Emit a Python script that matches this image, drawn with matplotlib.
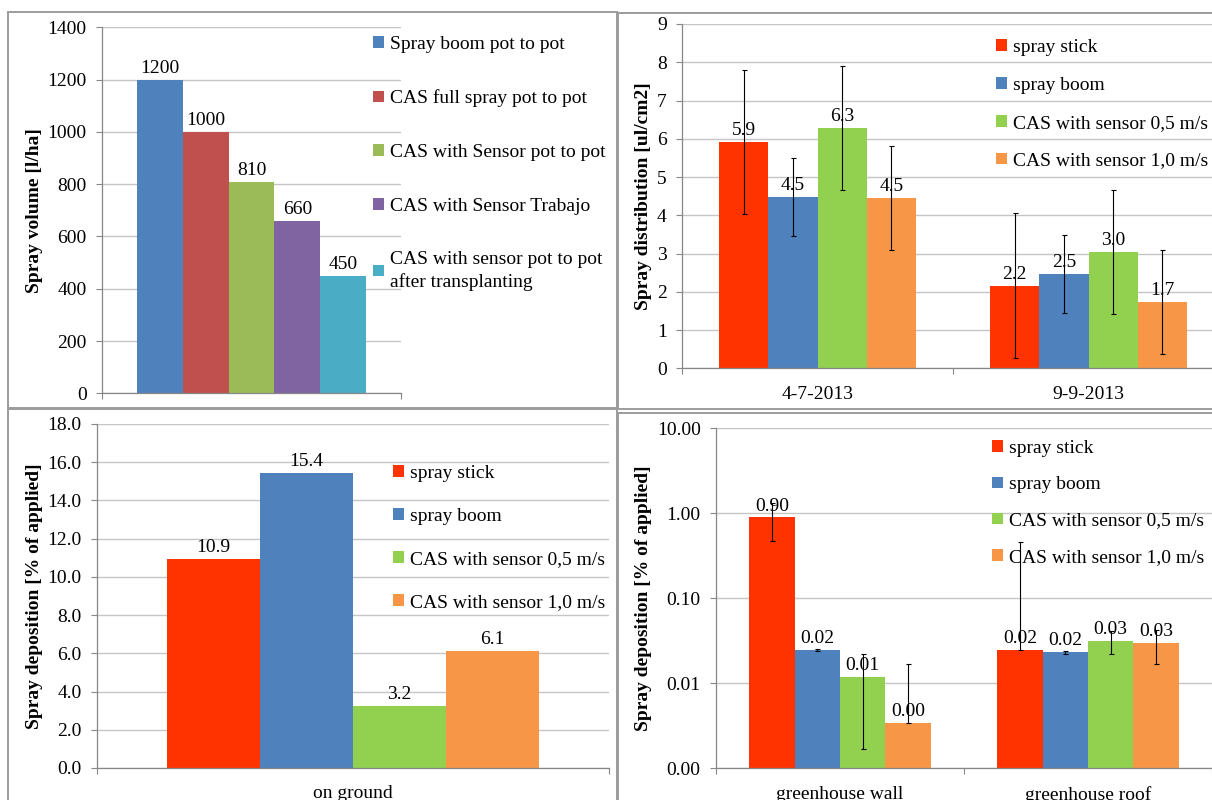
import numpy as np
import matplotlib
matplotlib.use("Agg")
import matplotlib.pyplot as plt
from matplotlib.ticker import FixedLocator, NullLocator, FuncFormatter

plt.rcParams["font.family"] = ["Liberation Serif", "DejaVu Serif"]
plt.rcParams["font.size"] = 14

# --- panel 1: spray volume ---
volume_names = ["Spray boom pot to pot", "CAS full spray pot to pot",
                "CAS with Sensor pot to pot", "CAS with Sensor Trabajo",
                "CAS with sensor pot to pot\nafter transplanting"]
volume_values = [1200, 1000, 810, 660, 450]
volume_colors = ["#4F81BD", "#C0504D", "#9BBB59", "#8064A2", "#4BACC6"]

# --- shared series for panels 2-4 ---
series_names = ["spray stick", "spray boom",
                "CAS with sensor 0,5 m/s", "CAS with sensor 1,0 m/s"]
series_colors = ["#FF3300", "#4F81BD", "#92D050", "#F79646"]

# --- panel 2: spray distribution ---
dist_dates = ["4-7-2013", "9-9-2013"]
dist_stick = [5.92, 2.16]
dist_boom = [4.48, 2.46]
dist_cas05 = [6.29, 3.04]
dist_cas10 = [4.46, 1.73]
dist_stick_err = [1.88, 1.89]
dist_boom_err = [1.02, 1.02]
dist_cas05_err = [1.62, 1.63]
dist_cas10_err = [1.36, 1.36]

# --- panel 3: deposition on ground ---
ground_cats = ["on ground"]
ground_values = [10.94, 15.44, 3.24, 6.13]

# --- panel 4: deposition on greenhouse ---
house_cats = ["greenhouse wall", "greenhouse roof"]
house_stick = [0.897, 0.0246]
house_boom = [0.0245, 0.0232]
house_cas05 = [0.0118, 0.0318]
house_cas10 = [0.0034, 0.0296]
house_stick_err = [0.43, 0.44]
house_boom_err = [0.0008, 0.0008]
house_cas05_err = [0.0101, 0.0099]
house_cas10_err = [0.0134, 0.0128]

SPINE = "#878787"
GRID = "#C6C6C6"
BORDER = "#9C9C9C"
W, H = 1212, 800


def fig_rect(x0, y0, x1, y1):
    """pixel box (top-left origin) -> figure fraction [l, b, w, h]"""
    return [x0 / W, 1 - y1 / H, (x1 - x0) / W, (y1 - y0) / H]


def style_axes(ax, n_cats):
    for s in ["top", "right"]:
        ax.spines[s].set_visible(False)
    for s in ["left", "bottom"]:
        ax.spines[s].set_color(SPINE)
        ax.spines[s].set_linewidth(0.9)
    ax.yaxis.grid(True, color=GRID, lw=1.0)
    ax.set_axisbelow(True)
    ax.set_xlim(-0.5, n_cats - 0.5)
    ax.tick_params(axis="y", which="major", direction="out", length=4,
                   width=0.8, color=SPINE, pad=7)
    ax.tick_params(axis="x", which="major", length=0, pad=12.5)
    ax.xaxis.set_minor_locator(FixedLocator(np.arange(n_cats + 1) - 0.5))
    ax.tick_params(axis="x", which="minor", direction="out", length=4,
                   width=0.8, color=SPINE)


def add_legend(ax, x, y, spacing):
    leg = ax.legend(loc="upper left", bbox_to_anchor=(x / W, 1 - y / H),
                    bbox_transform=fig.transFigure, frameon=False,
                    borderpad=0, borderaxespad=0, handlelength=0.55,
                    handleheight=0.55, handletextpad=0.3,
                    labelspacing=spacing, fontsize=14)
    for t in leg.get_texts():
        t.set_linespacing(1.35)
    return leg


def grouped_bars(ax, cats, series, errs, width, fmt, log=False):
    x = np.arange(len(cats))
    n = len(series)
    for i, vals in enumerate(series):
        pos = x + (i - (n - 1) / 2) * width
        bars = ax.bar(pos, vals, width, color=series_colors[i],
                      label=series_names[i], zorder=2)
        if errs is not None:
            e = np.array(errs[i])
            v = np.array(vals)
            lower = np.where(e < v, e, 0) if log else e
            ax.errorbar(pos, vals, yerr=[lower, e], fmt="none", ecolor="black",
                        elinewidth=0.8, capsize=1.8, capthick=0.8, zorder=3)
        ax.bar_label(bars, fmt=fmt, padding=2, fontsize=14, zorder=4)
    ax.set_xticks(x)
    ax.set_xticklabels(cats)


fig = plt.figure(figsize=(12.12, 8), dpi=100)

# panel borders
for (x0, y0, x1, y1) in [(8, 12, 617, 408), (618, 13, 1240, 409),
                         (8, 409, 617, 830), (618, 413, 1240, 830)]:
    l, b, w, h = fig_rect(x0, y0, x1, y1)
    fig.add_artist(plt.Rectangle((l, b), w, h, transform=fig.transFigure,
                                 fill=False, edgecolor=BORDER, lw=1.4))

# panel 1
ax1 = fig.add_axes(fig_rect(102, 27.3, 401, 393.3))
style_axes(ax1, 1)
bw = 0.766 / len(volume_values)
for i, v in enumerate(volume_values):
    b = ax1.bar((i - 2) * bw, v, bw, color=volume_colors[i],
                label=volume_names[i], zorder=2)
    ax1.bar_label(b, padding=2, fontsize=14)
ax1.set_ylim(0, 1400)
ax1.set_yticks(np.arange(0, 1401, 200))
ax1.set_xticks([])
ax1.set_ylabel("Spray volume [l/ha]", fontweight="bold", labelpad=3.5)
add_legend(ax1, 373, 36, 1.88)

# panel 2
ax2 = fig.add_axes(fig_rect(682, 24, 1224, 368.3))
style_axes(ax2, 2)
grouped_bars(ax2, dist_dates,
             [dist_stick, dist_boom, dist_cas05, dist_cas10],
             [dist_stick_err, dist_boom_err, dist_cas05_err, dist_cas10_err],
             0.182, "%.1f")
ax2.set_ylim(0, 9)
ax2.set_yticks(np.arange(0, 10, 1))
ax2.set_ylabel("Spray distribution [ul/cm2]", fontweight="bold", labelpad=3.5)
add_legend(ax2, 996, 39, 1.07)

# panel 3
ax3 = fig.add_axes(fig_rect(97, 424, 609, 768))
style_axes(ax3, 1)
grouped_bars(ax3, ground_cats, [[v] for v in ground_values], None,
             0.1816, "%.1f")
ax3.set_ylim(0, 18)
ax3.set_yticks(np.arange(0, 18.1, 2))
ax3.yaxis.set_major_formatter(FuncFormatter(lambda v, p: f"{v:.1f}"))
ax3.set_ylabel("Spray deposition [% of applied]", fontweight="bold",
               labelpad=3.5)
add_legend(ax3, 393, 465, 1.34)

# panel 4
ax4 = fig.add_axes(fig_rect(716, 428.3, 1212, 768.3))
ax4.set_yscale("log")
style_axes(ax4, 2)
grouped_bars(ax4, house_cats,
             [house_stick, house_boom, house_cas05, house_cas10],
             [house_stick_err, house_boom_err, house_cas05_err, house_cas10_err],
             0.183, "%.2f", log=True)
ax4.set_ylim(0.001, 10)
ax4.yaxis.set_major_locator(FixedLocator([0.001, 0.01, 0.1, 1, 10]))
ax4.yaxis.set_minor_locator(NullLocator())
ax4.yaxis.set_major_formatter(FuncFormatter(lambda v, p: f"{v:.2f}"))
ax4.set_ylabel("Spray deposition [% of applied]", fontweight="bold",
               labelpad=3.5)
add_legend(ax4, 992, 440, 0.99)

fig.savefig("out.png", dpi=100)
